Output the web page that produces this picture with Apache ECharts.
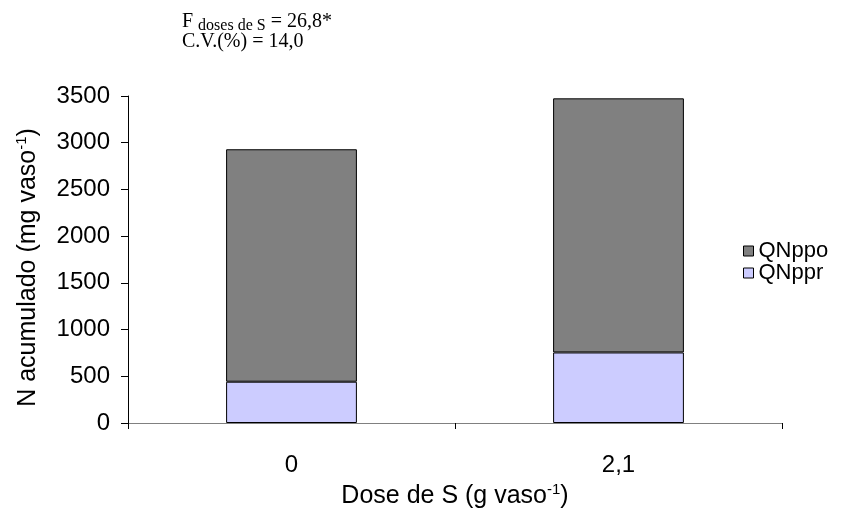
<!DOCTYPE html>
<html><head><meta charset="utf-8">
<script src="https://cdn.jsdelivr.net/npm/echarts@6/dist/echarts.min.js"></script>
<style>html,body{margin:0;padding:0;background:#fff}#c{width:841px;height:522px}</style>
</head><body><div id="c"></div>
<script>
var categories = ['0', '2,1'];
var qnppr = [442, 755];
var qnppo = [2488, 2720];
var yTicks = [0, 500, 1000, 1500, 2000, 2500, 3000, 3500];

var chart = echarts.init(document.getElementById('c'), null, {renderer: 'canvas'});
var font = 'Liberation Sans, Arial, sans-serif';
var serif = 'Liberation Serif, Times New Roman, serif';
chart.setOption({
  animation: false,
  backgroundColor: '#fff',
  grid: {left: 128, right: 59, top: 96, bottom: 99},
  legend: {
    orient: 'vertical', left: 738, top: 235, itemWidth: 10, itemHeight: 10, itemGap: 0,
    icon: 'rect',
    textStyle: {fontFamily: font, fontSize: 22, color: '#000', padding: [0, 0, 0, 0]},
    itemStyle: {borderColor: '#000', borderWidth: 1},
    data: ['QNppo', 'QNppr']
  },
  graphic: [{
    type: 'text', left: 182, top: 12,
    style: {
      rich: {
        b: {fontFamily: serif, fontSize: 20, fill: '#000'},
        s: {fontFamily: serif, fontSize: 16, fill: '#000', padding: [7, 0, 0, 0]}
      },
      text: '{b|F }{s|doses de S}{b| = 26,8*}\n{b|C.V.(%) = 14,0}',
      lineHeight: 20,
      fill: '#000'
    }
  }],
  xAxis: {
    type: 'category', data: categories,
    name: 'Dose de S (g vaso{sup|-1})', nameLocation: 'middle', nameGap: 58,
    nameTextStyle: {fontFamily: font, fontSize: 25, color: '#000',
      rich: {sup: {fontFamily: font, fontSize: 15, color: '#000', padding: [0, 0, 13, 0]}}},
    axisLine: {lineStyle: {color: '#808080', width: 1}},
    axisTick: {show: true, length: 6, inside: false, alignWithLabel: false, lineStyle: {color: '#000'}},
    axisLabel: {fontFamily: font, fontSize: 24, color: '#000', margin: 30}
  },
  yAxis: {
    type: 'value', min: 0, max: 3500, interval: 500,
    name: 'N acumulado (mg vaso{sup|-1})', nameLocation: 'middle', nameGap: 86, nameRotate: 90,
    nameTextStyle: {fontFamily: font, fontSize: 25, color: '#000', padding: [0, 16, 0, 0],
      rich: {sup: {fontFamily: font, fontSize: 15, color: '#000', padding: [0, 0, 13, 0]}}},
    axisLine: {show: true, lineStyle: {color: '#000', width: 1}},
    axisTick: {show: true, length: 7, lineStyle: {color: '#000'}},
    splitLine: {show: false},
    axisLabel: {fontFamily: font, fontSize: 24, color: '#000', margin: 18,
      formatter: function (v) { return yTicks.indexOf(v) >= 0 ? String(v) : ''; }}
  },
  series: [
    {name: 'QNppr', type: 'bar', stack: 't', data: qnppr, barWidth: '40%',
      itemStyle: {color: '#CCCCFF', borderColor: '#000', borderWidth: 1}},
    {name: 'QNppo', type: 'bar', stack: 't', data: qnppo, barWidth: '40%',
      itemStyle: {color: '#808080', borderColor: '#000', borderWidth: 1}}
  ]
});
</script></body></html>
